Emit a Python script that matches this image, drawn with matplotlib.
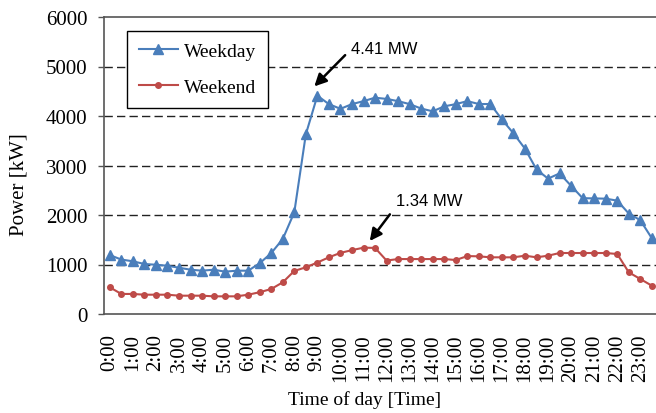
import numpy as np
from matplotlib import pyplot as plt
from matplotlib.transforms import offset_copy

# half-hour categories, labels every hour
hours = np.arange(0, 24, 0.5)
hour_labels = ['%d:00' % h for h in range(24)]

weekday = [1190, 1100, 1065, 1010, 995, 975, 935, 895, 875, 895, 855, 875,
           875, 1025, 1230, 1515, 2055, 3630, 4410, 4240, 4145, 4240, 4300, 4370,
           4345, 4300, 4240, 4150, 4095, 4195, 4240, 4300, 4242, 4242, 3930, 3650,
           3340, 2920, 2735, 2840, 2590, 2340, 2335, 2330, 2290, 2030, 1895, 1530]
weekend = [540, 405, 405, 390, 390, 390, 370, 370, 370, 357, 357, 357,
           390, 440, 505, 640, 870, 943, 1040, 1145, 1235, 1290, 1340, 1335,
           1080, 1110, 1110, 1110, 1110, 1110, 1090, 1170, 1165, 1145, 1145, 1145,
           1178, 1145, 1178, 1232, 1232, 1232, 1232, 1232, 1212, 842, 707, 572]

BLUE = '#4a7ebb'
RED = '#be4b48'
SERIF = ['Liberation Serif', 'DejaVu Serif']
SANS = ['Liberation Sans', 'DejaVu Sans']

fig = plt.figure(figsize=(6.56, 4.14), dpi=100)
ax = fig.add_axes([104 / 656, 99 / 414, 553.6 / 656, 297 / 414])

ax.plot(hours, weekday, color=BLUE, lw=1.5, marker='^', ms=6.5, label='Weekday', zorder=3)
ax.plot(hours, weekend, color=RED, lw=1.5, marker='o', ms=4, label='Weekend', zorder=3)

ax.set_xlim(-0.25, 23.75)
ax.set_ylim(0, 6000)
ax.set_yticks(range(0, 6001, 1000))
ax.set_xticks(range(24))
ax.set_xticklabels(hour_labels, rotation=90, family=SERIF, fontsize=15)
for lab in ax.get_yticklabels():
    lab.set_family(SERIF)
    lab.set_fontsize(15)
ax.tick_params(axis='x', length=0, pad=14)
ax.tick_params(axis='y', length=4, width=1, color='#555555', pad=8)

for y in range(1000, 6000, 1000):
    ax.axhline(y, color='#222222', lw=1, ls=(0, (6, 3)), zorder=1)
for s in ax.spines.values():
    s.set_color('#555555')
    s.set_linewidth(1.2)

ax.set_xlabel('Time of day [Time]', family=SERIF, fontsize=14)
ax.set_ylabel('Power [kW]', family=SERIF, fontsize=15)
ax.xaxis.set_label_coords(0.471, -0.256)
ax.yaxis.set_label_coords(-0.136, 0.438)

leg = ax.legend(loc='upper left', bbox_to_anchor=(0.042, 0.954), borderaxespad=0,
                fancybox=False, framealpha=1, edgecolor='black', handlelength=2.0,
                handletextpad=0.3, labelspacing=0.95, borderpad=0.6,
                prop={'family': SERIF, 'size': 14})
leg.get_frame().set_linewidth(1)

# peak annotations: (tip offset, arrow start offset, text offset) in points
k1 = int(np.argmax(weekday))
k2 = int(np.argmax(weekend))
arrow = dict(arrowstyle='-|>', color='black', lw=1.8, mutation_scale=18,
             shrinkA=0, shrinkB=0)
for k, vals, txt, tip, start, tpos in [
        (k1, weekday, '4.41 MW', (-2.2, 6.7), (20, 29.2), (24, 34)),
        (k2, weekend, '1.34 MW', (4.5, 4.8), (19, 24), (23.3, 34.3))]:
    tr = offset_copy(ax.transData, fig=fig, x=tip[0], y=tip[1], units='points')
    ax.annotate('', xy=(hours[k], vals[k]), xycoords=tr,
                xytext=(start[0] - tip[0], start[1] - tip[1]), textcoords='offset points',
                arrowprops=arrow, annotation_clip=False)
    ax.annotate(txt, xy=(hours[k], vals[k]), xytext=tpos, textcoords='offset points',
                ha='left', va='center', family=SANS, fontsize=12)

fig.savefig('out.png', dpi=100)
